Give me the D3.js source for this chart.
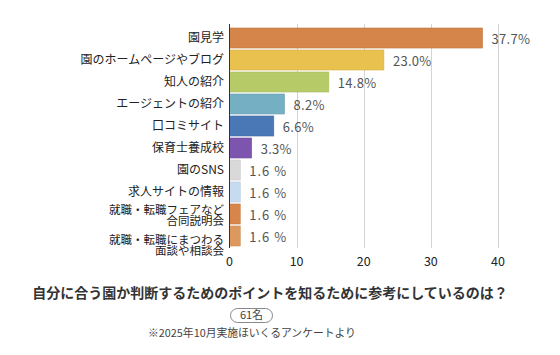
<!DOCTYPE html>
<html><head><meta charset="utf-8">
<script src="https://cdn.jsdelivr.net/npm/d3@7"></script>
<style>body{margin:0;background:#fff;} svg{display:block;}</style>
</head><body>
<svg id="c" width="560" height="355"></svg>
<script>
const categories = ["園見学","園のホームページやブログ","知人の紹介","エージェントの紹介","口コミサイト","保育士養成校","園のSNS","求人サイトの情報","就職・転職フェアなど\n合同説明会","就職・転職にまつわる\n面談や相談会"];
const values = [37.7,23.0,14.8,8.2,6.6,3.3,1.6,1.6,1.6,1.6];
const valueLabels = ["37.7%","23.0%","14.8%","8.2%","6.6%","3.3%","1.6 %","1.6 %","1.6 %","1.6 %"];
const colors = ["#d5844a","#e9c14f","#b6cb68","#75afc3","#4a77b5","#7d55ae","#d9d9d9","#c7dbf0","#d8854a","#dd985e"];
const xTicks = [0,10,20,30,40];
const title = "自分に合う園か判断するためのポイントを知るために参考にしているのは？";
const countLabel = "61名";
const note = "※2025年10月実施ほいくるアンケートより";

(function(){
const font = "'Noto Sans CJK JP','Noto Sans',sans-serif";
const svg = d3.select("#c").style("font-family", font);
const pLeft = 229.5, pTop = 29, pBottom = 245;
const x = d3.scaleLinear().domain([0,40]).range([pLeft, 498]);
const y = d3.scaleBand().domain(d3.range(categories.length)).range([pTop - 1, pBottom + 1]).paddingInner(0.09).paddingOuter(0.0);

svg.append("g").selectAll("line").data(xTicks.filter(d=>d>0)).join("line")
  .attr("x1", d=>Math.round(x(d))+0.5).attr("x2", d=>Math.round(x(d))+0.5)
  .attr("y1", 24).attr("y2", 248).attr("stroke", "#d4d4d4").attr("stroke-width", 1);

svg.append("g").selectAll("rect").data(values).join("rect")
  .attr("x", pLeft).attr("y", (d,i)=>y(i)).attr("width", d=>x(d)-pLeft).attr("height", y.bandwidth())
  .attr("fill", (d,i)=>colors[i])
  .attr("stroke", (d,i)=>d3.color(colors[i]).darker(0.25)).attr("stroke-width", 0.6);

svg.append("line").attr("x1", pLeft).attr("x2", pLeft).attr("y1", 24).attr("y2", 248).attr("stroke", "#333").attr("stroke-width", 1);

svg.append("g").selectAll("text").data(xTicks).join("text")
  .attr("x", d=>x(d)).attr("y", 262).attr("dy","0.35em").attr("text-anchor","middle")
  .attr("font-size", 12.5).attr("fill", "#222").text(d=>d);

svg.append("g").selectAll("text").data(values).join("text")
  .attr("x", d=>x(d)+9).attr("y", (d,i)=>y(i)+y.bandwidth()/2+1).attr("dy","0.35em")
  .attr("font-size", 13).attr("fill", "#555").attr("letter-spacing", (d,i)=>i>=6?"1px":"0.3px")
  .text((d,i)=>valueLabels[i]);

const lineOffsets = {8:[-4.5,7], 9:[3.5,15]};
const cl = svg.append("g");
categories.forEach((c,i)=>{
  const cy = y(i)+y.bandwidth()/2;
  const lines = c.split("\n");
  const offs = lines.length===1 ? [0] : (lineOffsets[i] || [-5,5]);
  const fs = lines.length===1 ? 12 : 11.5;
  const t = cl.append("text").attr("text-anchor","end").attr("font-size", fs).attr("fill", "#222");
  lines.forEach((ln,j)=>{
    t.append("tspan").attr("x", 224).attr("y", cy+offs[j]).attr("dy","0.35em").text(ln);
  });
});

svg.append("text").attr("x", 270).attr("y", 293).attr("dy","0.35em").attr("text-anchor","middle")
  .attr("font-size", 14).attr("font-weight","bold").attr("fill","#333").text(title);

svg.append("rect").attr("x", 230.5).attr("y", 308.5).attr("width", 42).attr("height", 14).attr("rx", 7)
  .attr("fill","#fff").attr("stroke","#888").attr("stroke-width",1);
svg.append("text").attr("x", 251.5).attr("y", 315.5).attr("dy","0.35em").attr("text-anchor","middle")
  .attr("font-size", 11).attr("fill","#444").text(countLabel);

svg.append("text").attr("x", 252).attr("y", 333).attr("dy","0.35em").attr("text-anchor","middle")
  .attr("font-size", 10.8).attr("fill","#444").text(note);
})();
</script>
</body></html>
